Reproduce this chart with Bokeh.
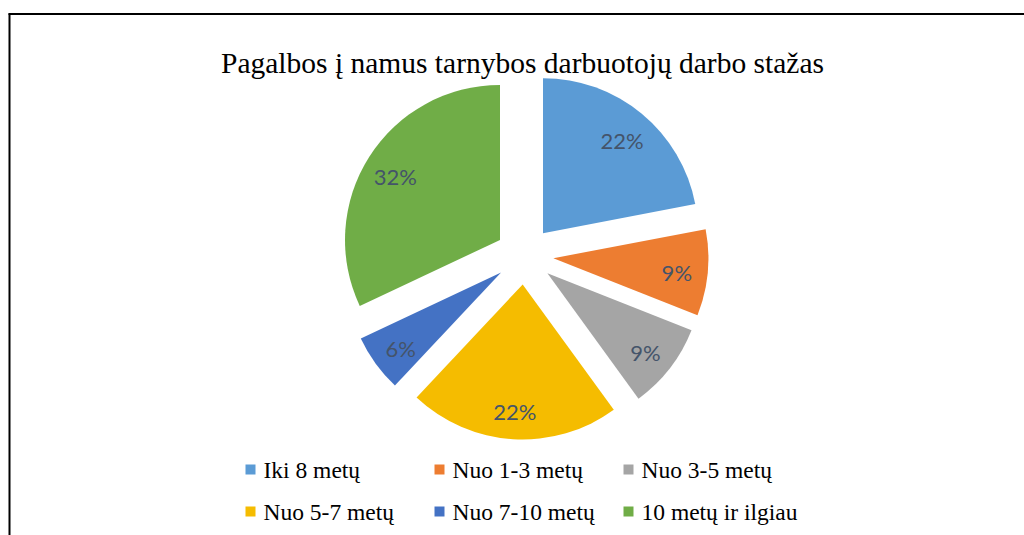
import math
from bokeh.plotting import figure
from bokeh.models import ColumnDataSource
from bokeh.core.properties import value
from bokeh.embed import file_html
from bokeh.resources import INLINE

# ---- data ----
title = "Pagalbos į namus tarnybos darbuotojų darbo stažas"
categories = ["Iki 8 metų", "Nuo 1-3 metų", "Nuo 3-5 metų",
              "Nuo 5-7 metų", "Nuo 7-10 metų", "10 metų ir ilgiau"]
values = [22, 9, 9, 22, 6, 32]
colors = ["#5B9BD5", "#ED7D31", "#A5A5A5", "#F5BC00", "#4472C4", "#70AD47"]

W, H = 1024, 535
# layout (pixel space; y measured from top then flipped)
CX, CY = 524, H - 255
R = 155
EXPLODE = 29
LABEL_F = 0.8

p = figure(width=W, height=H, x_range=(0, W), y_range=(0, H),
           x_axis_type=None, y_axis_type=None, toolbar_location=None,
           output_backend="svg", min_border=0, outline_line_color=None)
p.grid.visible = False
p.background_fill_color = "white"
p.border_fill_color = "white"

total = sum(values)
starts, ends, xs, ys, lx, ly, labels = [], [], [], [], [], [], []
acc = 0.0
for v in values:
    t1 = acc / total * 2 * math.pi
    acc += v
    t2 = acc / total * 2 * math.pi
    mid = (t1 + t2) / 2
    cx = CX + EXPLODE * math.sin(mid)
    cy = CY + EXPLODE * math.cos(mid)
    xs.append(cx)
    ys.append(cy)
    starts.append(math.pi / 2 - t1)
    ends.append(math.pi / 2 - t2)
    lx.append(cx + LABEL_F * R * math.sin(mid))
    ly.append(cy + LABEL_F * R * math.cos(mid) - 3)
    labels.append(f"{round(v / total * 100)}%")

src = ColumnDataSource(dict(x=xs, y=ys, start=starts, end=ends, color=colors,
                            lx=lx, ly=ly, label=labels))
p.wedge(x="x", y="y", radius=R, start_angle="start", end_angle="end",
        direction="clock", fill_color="color", line_color=None, source=src)
p.text(x="lx", y="ly", text="label", source=src, text_align="center",
       text_baseline="middle", text_font=value("Lato"), text_font_size="22px",
       text_color="#44546A")

# title
p.text(x=[522], y=[H - 62], text=[title], text_align="center",
       text_baseline="alphabetic", text_font=value("Liberation Serif"),
       text_font_size="29.5px", text_color="#000000")

# legend
col_x = [250, 439, 628]
row_y = [H - 469, H - 511]
mx, my, tx, ty = [], [], [], []
for i, c in enumerate(categories):
    r, k = divmod(i, 3)
    mx.append(col_x[k]); my.append(row_y[r])
    tx.append(col_x[k] + 13); ty.append(row_y[r])
p.rect(x=mx, y=my, width=10, height=10, fill_color=colors, line_color=None)
p.text(x=tx, y=ty, text=categories, text_align="left", text_baseline="middle",
       text_font=value("Liberation Serif"), text_font_size="23.5px",
       text_color="#000000")

# frame lines
p.line(x=[8, W], y=[H - 13.5, H - 13.5], line_color="black", line_width=2)
p.line(x=[9, 9], y=[H - 13, 0], line_color="black", line_width=2)

open("out.html", "w").write(file_html(p, INLINE))
